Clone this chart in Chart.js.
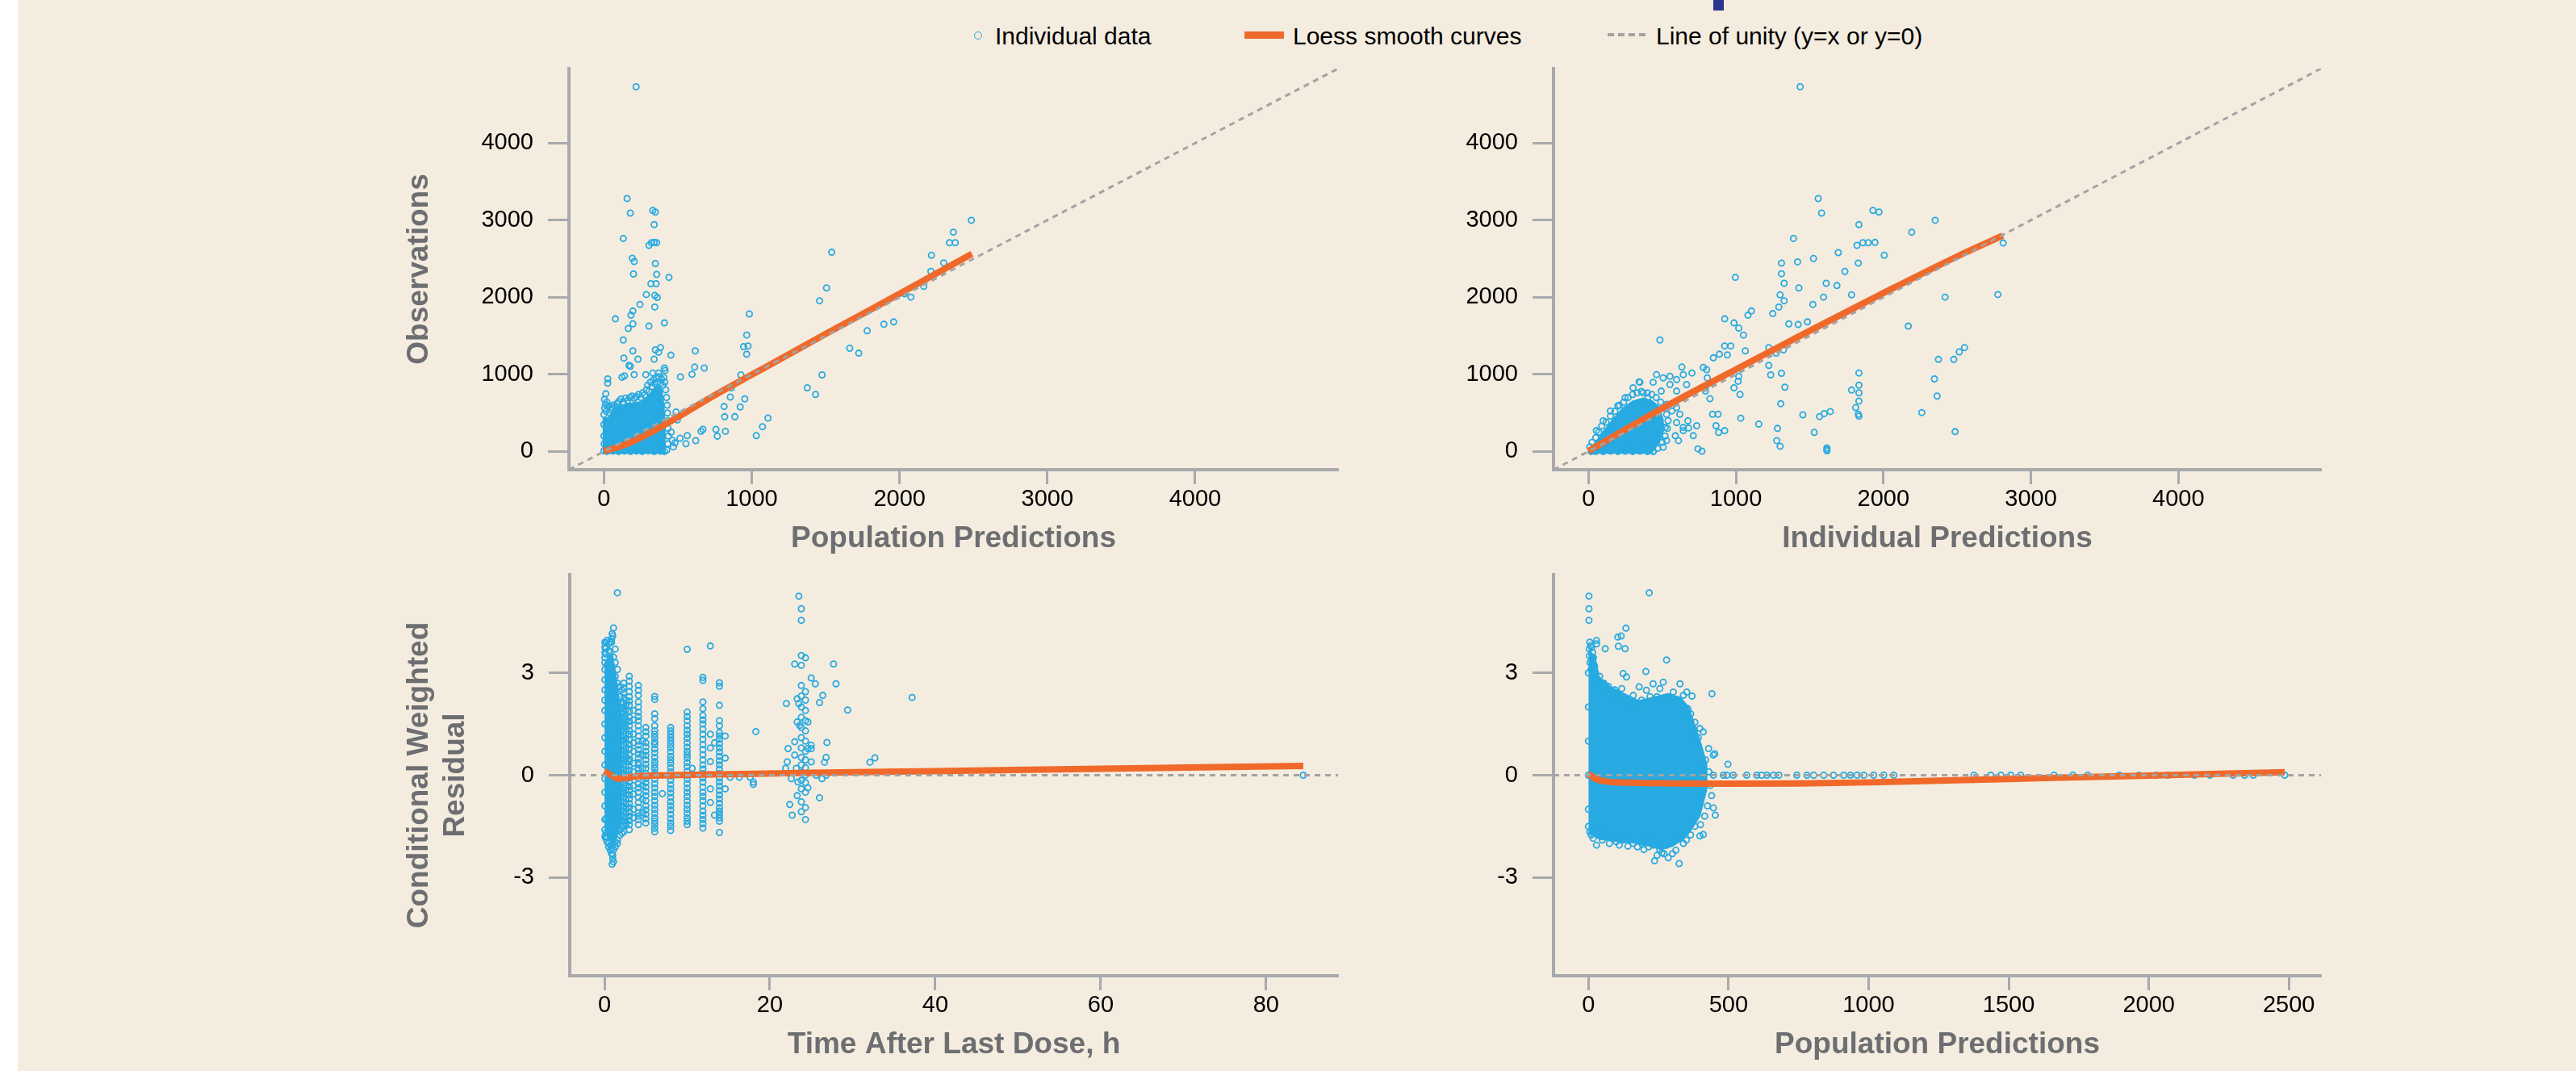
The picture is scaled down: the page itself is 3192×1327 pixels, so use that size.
<!DOCTYPE html>
<html>
<head>
<meta charset="utf-8">
<title>Goodness-of-fit plots</title>
<script src="https://cdn.jsdelivr.net/npm/chart.js@4.4.1/dist/chart.umd.min.js"></script>
<style>
  html, body { margin:0; padding:0; background:#ffffff; }
  body { width:3192px; height:1327px; position:relative; overflow:hidden; font-family:'Liberation Sans', Arial, sans-serif; }
  #panel { position:absolute; left:22px; top:0; width:3170px; height:1327px; background:#F4ECDF; }
  canvas { position:absolute; }
  .legtext { position:absolute; top:30px; font-size:30px; line-height:30px; color:#000; white-space:nowrap; }
</style>
</head>
<body>
<div id="panel"></div>
<div style="position:absolute;left:2123px;top:0;width:13px;height:13px;background:#2E358C"></div>
<div id="legend"></div>
<script>
// ---------------- axis settings ----------------
const obsAxisRange = [-236.5, 4966.5];
const obsTicks = [0, 1000, 2000, 3000, 4000];
const tadRange = [-4.2, 88.7];
const tadTicks = [0, 20, 40, 60, 80];
const predRange = [-124.5, 2614.5];
const predTicks = [0, 500, 1000, 1500, 2000, 2500];
const cwresRange = [-5.88, 5.88];
const cwresTicks = [-3, 0, 3];

const legendLabels = ['Individual data', 'Loess smooth curves', 'Line of unity (y=x or y=0)'];
const axisTitles = {
  obs: 'Observations', pred: 'Population Predictions', ipred: 'Individual Predictions',
  cwres: ['Conditional Weighted', 'Residual'], tad: 'Time After Last Dose, h'
};

// ---------------- Observations vs Population Predictions ----------------
const obsVsPredPoints = [
 [218,4731],[157,3281],[179,3093],[331,3127],[348,3106],[340,2943],[131,2764],[305,2674],[322,2708],[340,2712],[357,2708],
 [192,2507],[205,2464],[348,2438],[200,2302],[357,2297],[440,2259],[318,2177],[353,2177],[287,2036],[344,2024],[361,1998],
 [244,1908],[344,1874],[196,1822],[183,1767],[78,1720],[165,1596],[196,1656],[305,1626],[409,1668],[131,1446],[196,1305],
 [348,1318],[383,1348],[370,1288],[135,1211],[231,1198],[340,1198],[453,1249],[170,1117],[179,1104],[122,963],[139,980],
 [26,941],[26,886],[205,997],[283,997],[331,1018],[370,1018],[409,1082],[414,1052],[13,749],[4,676],[52,569],
 [518,967],[618,1305],[614,1095],[679,1082],[596,1001],[488,513],[497,409],[515,171],[564,206],[555,101],[621,140],
 [657,262],[670,287],[758,287],[767,199],[822,262],[855,706],[813,584],[817,451],[886,451],[922,577],[953,682],[862,826],
 [927,993],[966,1510],[975,1369],[945,1360],[966,1262],[984,1784],[1031,206],[1073,322],[1110,434],[1376,826],[1432,740],
 [1476,993],[1459,1955],[1506,2122],[1541,2584],[1663,1339],[1724,1275],[1781,1566],[1894,1651],[1960,1681],[2077,2002],
 [2034,2045],[2164,2143],[2212,2336],[2216,2545],[2299,2447],[2338,2708],[2377,2708],[2364,2845],[2486,2999],
 [463,146],[481,111],[470,60],[455,250],
 [0,480],[5,560],[10,610],[15,520],[20,640],[30,590],[40,500],[50,540],[62,600],[75,580],[88,620],[100,650],[115,680],
 [130,640],[145,690],[160,660],[175,700],[190,720],[205,690],[220,710],[235,740],[250,700],[262,760],[275,730],[288,800],
 [296,860],[305,780],[315,900],[325,840],[335,930],[345,880],[352,960],[362,900],[372,970],[380,880],[390,940],[398,860],
 [405,960],[412,900],[418,800],[424,700],[428,600],[430,500],[432,400],[434,300],[436,200],[432,100],[426,20],[410,0],
 [380,5],[340,0],[300,8],[260,0],[220,5],[180,0],[140,6],[100,0],[60,5],[20,0],[0,10],[0,200],[0,350],[2,100]
];
const obsVsPredCoreTop = [[-10,430],[30,450],[60,540],[100,600],[150,620],[200,640],[250,650],[280,690],[310,760],[340,830],[370,860],[395,800],[410,600],[418,300],[418,-30]];
const obsVsPredCoreBottom = [[-10,-30],[418,-30]];
const obsVsPredLoess = [[0,5],[100,60],[200,135],[300,230],[400,335],[500,445],[700,675],[1000,995],[1500,1525],[2000,2045],[2490,2565]];

// ---------------- Observations vs Individual Predictions ----------------
const obsVsIpredPoints = [
 [1436,4731],[1558,3281],[1581,3093],[1929,3127],[1970,3106],[2351,2999],[1834,2943],[2192,2845],[1390,2764],[1861,2708],
 [1897,2708],[1943,2712],[1821,2674],[2812,2704],[1694,2580],[2006,2545],[1526,2503],[1309,2443],[1418,2460],[1830,2443],
 [1739,2336],[996,2259],[1309,2306],[1327,2182],[1612,2182],[1685,2152],[1427,2122],[1300,2032],[1784,2032],[1594,2002],
 [2418,2002],[2776,2036],[1327,1955],[1522,1908],[1291,1874],[1250,1788],[1105,1822],[1082,1767],[924,1720],[987,1668],
 [1359,1656],[1422,1647],[1485,1681],[1019,1600],[1051,1510],[2169,1626],[485,1446],[924,1369],[965,1369],[888,1262],
 [942,1253],[847,1215],[1064,1305],[1223,1348],[1273,1275],[1322,1318],[2550,1348],[2514,1292],[2373,1194],[2477,1194],
 [2346,941],[2364,719],[2260,505],[2486,257],[1834,1018],[1834,860],[1834,761],[1834,654],[1812,569],[1830,483],[1834,458],
 [1784,796],[1640,518],[1599,492],[1567,453],[1454,475],[1531,248],[1304,620],[1332,834],[1309,1014],[1236,993],[1223,1117],
 [1282,299],[1277,141],[1300,68],[1617,47],[1617,26],[1617,9],[1155,355],[1033,432],[1028,740],[1015,911],[1019,975],
 [987,826],[879,483],[842,483],[865,334],[924,270],[883,248],[743,34],[770,4],[734,334],[679,304],[643,270],[711,205],
 [824,684],[793,826],[793,783],[779,1091],[802,1061],[806,954],
 [462,997],[507,954],[553,975],[598,933],[643,997],[666,868],[702,1018],[634,1095],[553,868],[598,783],[643,697],[494,783],
 [439,898],[349,898],[303,826],[249,697],[199,590],[149,526],[100,398],[54,270],[371,761],[403,697],[530,612],[620,483],
 [598,376],[643,312],[675,398],[521,312],[530,141],[507,56],[439,4],[340,13],[485,184],[611,141],[589,205],[598,569],
 [566,526],[344,903],
 [10,60],[25,120],[50,180],[70,250],[90,330],[120,380],[150,460],[180,520],[210,600],[240,640],[270,700],[300,740],
 [330,760],[360,780],[400,760],[430,740],[460,700],[490,640],[515,560],[530,480],[540,400],[535,300],[520,200],[500,120],
 [470,40],[440,0],[400,0],[350,5],[300,0],[250,3],[200,0],[150,5],[100,0],[50,2],[20,0]
];
const obsVsIpredCoreTop = [[-5,0],[40,110],[100,270],[170,440],[230,570],[300,660],[370,700],[430,670],[480,590],[510,420],[515,300]];
const obsVsIpredCoreBottom = [[-5,-30],[430,-30],[480,100],[515,280]];
const obsVsIpredLoess = [[0,5],[250,285],[500,560],[1000,1065],[1500,1565],[2000,2055],[2500,2530],[2810,2800]];

// ---------------- CWRES vs Time After Last Dose (columns: time, residuals) ----------------
const cwresVsTadColumns = [
 [0.05,[3.9,3.75,3.6,3.45,3.3,3.1,2.8,2.5,2.2,1.9,1.5,1.1,0.7,0.3,-0.1,-0.5,-0.9,-1.3,-1.6,-1.8]],
 [0.16,[3.88,3.71,3.55,-1.27,-1.7,-1.85]],
 [0.3,[3.22,3.95,-1.8,-1.95]],
 [0.5,[3.85,3.65,-2.0,-2.1]],
 [0.7,[3.61,3.9,-2.05,-2.2]],
 [0.86,[3.9,4.0,-2.15,-2.3]],
 [0.93,[4.15,-2.05,-2.61]],
 [1.0,[4.08,-2.34,-2.45]],
 [1.09,[4.32,3.46,-2.19,-2.54]],
 [1.3,[3.7,3.3,2.9,-1.95,-2.1]],
 [1.56,[5.35,3.1,2.7,-1.9,-2.0]],
 [1.87,[2.6,2.3,2.0,-1.76,-1.6]],
 [2.1,[2.5,2.1,1.8,1.5,-1.5,-1.7]],
 [2.33,[2.7,2.56,2.41,2.27,2.12,1.99,1.85,1.7,1.57,1.42,1.3,1.15,1.02,0.88,0.73,0.6,0.46,0.33,0.18,0.05,-0.09,-0.22,-0.37,-0.5,-0.64,-0.79,-0.92,-1.06,-1.2,-1.33,-1.48,-1.66]],
 [2.57,[2.2,2.05,1.92,1.78,1.63,1.5,1.36,1.22,1.08,0.95,0.8,0.67,0.53,0.4,0.26,0.12,-0.02,-0.15,-0.3,-0.43,-0.57,-0.7,-0.85,-0.98,-1.12,-1.26,-1.39,-1.46]],
 [3.0,[2.9,2.76,2.6,2.45,2.3,2.17,2.05,1.88,1.7,1.58,1.45,1.31,1.2,1.04,0.9,0.77,0.6,0.48,0.4,0.27,0.15,0.02,-0.08,-0.2,-0.33,-0.45,-0.58,-0.7,-0.83,-0.95,-1.08,-1.2,-1.33,-1.45,-1.6]],
 [3.5,[1.9,1.62,1.2,0.95,0.7,0.35,0.1,-0.3,-0.55,-1.0,-1.25]],
 [4.1,[2.63,2.49,2.34,2.15,2.0,1.85,1.72,1.6,1.45,1.3,1.15,1.0,0.88,0.75,0.62,0.5,0.37,0.3,0.18,0.05,-0.1,-0.25,-0.37,-0.5,-0.65,-0.8,-0.94,-1.1,-1.2,-1.3,-1.45]],
 [4.6,[1.0,0.6,0.2,-0.3,-0.7,-1.1]],
 [5.0,[1.4,1.27,1.15,0.95,0.83,0.7,0.58,0.45,0.32,0.2,0.05,-0.1,-0.22,-0.35,-0.48,-0.6,-0.75,-0.9,-1.02,-1.15,-1.28,-1.4]],
 [6.07,[2.31,2.22,1.8,1.66,1.45,1.3,1.2,1.1,0.98,0.9,0.77,0.65,0.52,0.4,0.3,0.2,0.08,0.0,-0.12,-0.25,-0.37,-0.5,-0.62,-0.75,-0.88,-1.0,-1.12,-1.25,-1.35,-1.45,-1.56,-1.66]],
 [7.0,[-0.54]],
 [8.0,[1.4,1.3,1.2,1.1,1.0,0.9,0.8,0.68,0.55,0.45,0.35,0.22,0.1,-0.02,-0.15,-0.28,-0.4,-0.52,-0.65,-0.78,-0.9,-1.02,-1.15,-1.28,-1.4,-1.5,-1.62]],
 [10.0,[3.69,1.85,1.72,1.6,1.45,1.32,1.2,1.08,0.95,0.82,0.7,0.6,0.5,0.37,0.25,0.12,0.0,-0.12,-0.25,-0.38,-0.5,-0.62,-0.75,-0.88,-1.0,-1.12,-1.25,-1.35,-1.45]],
 [10.6,[0.2]],
 [11.9,[2.87,2.78,2.15,1.95,1.75,1.62,1.5,1.35,1.2,1.05,0.9,0.75,0.6,0.45,0.3,0.18,0.05,-0.08,-0.2,-0.35,-0.5,-0.62,-0.75,-0.9,-1.05,-1.18,-1.3,-1.42,-1.55]],
 [12.8,[3.79,1.2,0.8,0.4,-0.4,-0.8]],
 [13.3,[-1.17,0.95]],
 [13.9,[2.71,2.61,2.05,1.6,1.45,1.25,1.15,1.05,0.92,0.8,0.68,0.55,0.42,0.3,0.18,0.05,-0.08,-0.2,-0.32,-0.45,-0.58,-0.7,-0.82,-0.95,-1.05,-1.15,-1.25,-1.35,-1.68]],
 [14.6,[1.15,0.5,-0.4]],
 [15.2,[-0.06]],[16.3,[-0.06]],[17.6,[-0.06]],[18.0,[-0.2,-0.27]],[18.3,[1.28]],
 [21.9,[0.2]],[22.0,[2.1]],[22.2,[0.78]],[22.1,[0.39]],[22.4,[-0.86]],[22.7,[-1.17]],[22.6,[-0.1]],
 [23.0,[3.26,0.98,0.59]],[23.2,[0.2]],[23.3,[2.24,1.56,-0.6]],[23.4,[-0.2]],[23.5,[5.25,2.1]],[23.6,[1.46]],
 [23.8,[4.88,4.54,3.51,3.22,2.63,2.32,2.0,1.7,1.4,1.1,0.8,0.52,0.3,0.08,-0.15,-0.4,-0.78,-1.07]],
 [24.3,[3.44,2.45,2.2,1.9,1.6,1.3,1.0,0.7,0.45,0.22,0.0,-0.22,-0.5,-0.95,-1.3]],
 [24.6,[0.78,1.56,-0.37]],[25.0,[2.85,0.88,0.78,0.39]],[25.5,[2.68]],[25.6,[0.0]],[26.0,[2.13,-0.66]],[26.3,[-0.1]],
 [26.4,[2.34]],[26.6,[0.38]],[26.8,[0.52,0.0]],[26.9,[0.96]],[27.7,[3.26]],[28.0,[2.68]],[29.4,[1.91]],
 [32.1,[0.38]],[32.7,[0.51]],[37.2,[2.28]],[84.5,[0.0]]
];
const cwresVsTadCoreTop = [[0.0,3.3],[0.5,3.5],[1.0,3.6],[1.4,3.0],[1.8,2.3],[2.2,1.7]];
const cwresVsTadCoreBottom = [[0.0,-1.6],[0.5,-1.9],[1.0,-2.1],[1.4,-1.9],[1.8,-1.6],[2.2,-1.4]];
const cwresVsTadLoess = [[0,0.12],[0.8,0.0],[1.6,-0.1],[2.5,-0.08],[4,-0.03],[8,0.0],[15,0.03],[25,0.07],[40,0.12],[60,0.19],[84.5,0.27]];

// ---------------- CWRES vs Population Predictions ----------------
const cwresVsPredPoints = [
 [2,5.25],[2,4.88],[2,4.54],[217,5.35],[134,4.31],[117,4.08],[105,4.05],[107,3.78],[131,3.71],[60,3.71],[279,3.38],[205,3.04],
 [441,2.39],[29,3.95],[29,3.85],[5,3.9],[8,3.8],[12,3.75],[15,3.6],[3,3.7],[4,3.5],[6,3.3],[10,3.1],[18,3.45],[22,3.2],[25,3.0],
 [72,2.6],[88,2.34],[124,2.98],[136,2.88],[119,2.54],[160,2.34],[181,2.59],[207,2.49],[231,2.68],[255,2.54],[267,2.73],
 [303,2.44],[327,2.68],[339,2.34],[351,2.44],[370,2.32],[355,1.95],[398,1.37],[410,1.27],[429,0.78],[446,0.59],[451,0.63],
 [498,0.32],[446,-0.96],[453,-1.17],[410,-1.74],[398,-1.78],[324,-2.59],[236,-2.51],[339,-2.0],[327,-1.85],[279,-2.05],
 [255,-2.19],[231,-2.05],[207,-1.85],[160,-2.0],[141,-2.08],[124,-1.9],[100,-1.95],[88,-1.83],[64,-1.76],[29,-2.05],
 [17,-1.85],[5,-1.66],[41,-1.74],
 [40,2.9],[55,2.7],[95,2.5],[150,2.1],[170,2.0],[190,2.2],[220,2.3],[245,2.3],[285,2.3],[315,2.2],[365,1.8],[380,1.55],
 [392,1.1],[418,0.45],[430,0.1],[435,-0.3],[440,-0.6],[425,-0.9],[415,-1.2],[400,-1.45],[380,-1.5],[365,-1.75],[350,-1.9],
 [300,-2.3],[270,-2.3],[245,-2.35],[215,-2.1],[190,-2.0],[175,-2.1],[110,-2.05],[75,-2.0],[50,-1.9],[10,-1.75],[0,-1.5],
 [0,1.0],[0,2.0],[0,3.0],[0,0],[0,-1.0],[285,-2.42],[262,-2.28],[312,-2.2],[198,-2.18]
];
const cwresZeroPreds = [446,482,494,517,565,601,618,637,661,680,744,780,804,840,875,911,935,959,983,1018,1054,1090,
 1376,1436,1472,1507,1543,1662,1729,1782,1894,1965,2027,2068,2163,2218,2301,2342,2373,2485];
const cwresVsPredCoreTop = [[0,3.7],[25,3.5],[40,2.9],[80,2.6],[130,2.4],[180,2.2],[230,2.3],[280,2.4],[330,2.3],[360,2.0],[385,1.4],[405,0.9],[425,0.3]];
const cwresVsPredCoreBottom = [[0,-1.7],[40,-1.9],[100,-1.95],[160,-2.0],[220,-2.1],[260,-2.2],[300,-2.1],[340,-1.9],[370,-1.6],[400,-1.2],[425,-0.4]];
const cwresVsPredLoess = [[0,0.05],[20,-0.08],[60,-0.18],[150,-0.22],[300,-0.24],[500,-0.25],[750,-0.24],[1000,-0.21],[1250,-0.16],[1500,-0.11],[1750,-0.06],[2000,-0.01],[2250,0.04],[2485,0.09]];

// ---------------- styling ----------------
const BLUE = '#27AAE1', ORANGE = '#F0692A', UNITY = '#A3A3A3', AXIS = '#A7A9AC', TITLE = '#6D6E71';
const FONT = "'Liberation Sans', Arial, Helvetica, sans-serif";
Chart.defaults.font.family = FONT;

const toXY = arr => arr.map(([x, y]) => ({x, y}));
const colsToXY = cols => { const out = []; cols.forEach(([x, ys]) => ys.forEach(y => out.push({x, y}))); return out; };

// legend (HTML text)
(function buildLegend() {
  const lg = document.getElementById('legend');
  lg.innerHTML =
    '<div style="position:absolute;left:1207px;top:39px;width:10px;height:10px;box-sizing:border-box;border:1.8px solid ' + BLUE + ';border-radius:50%"></div>' +
    '<div class="legtext" style="left:1233px">' + legendLabels[0] + '</div>' +
    '<div style="position:absolute;left:1542px;top:39px;width:49px;height:9px;background:' + ORANGE + '"></div>' +
    '<div class="legtext" style="left:1602px">' + legendLabels[1] + '</div>' +
    '<div style="position:absolute;left:1992px;top:41px;width:49px;height:4px;background:repeating-linear-gradient(to right,' + UNITY + ' 0 8px,transparent 8px 13px)"></div>' +
    '<div class="legtext" style="left:2052px">' + legendLabels[2] + '</div>';
})();

function makePanel(cfg) {
  const [cl, ct, cw, ch] = cfg.box;
  const [L, T, R, B] = cfg.area;
  const cv = document.createElement('canvas');
  cv.width = cw; cv.height = ch;
  cv.style.left = cl + 'px'; cv.style.top = ct + 'px';
  cv.style.width = cw + 'px'; cv.style.height = ch + 'px';
  document.body.appendChild(cv);

  const datasets = [
    { type: 'line', label: legendLabels[2], data: toXY(cfg.unity), borderColor: UNITY, borderWidth: 3,
      borderDash: [7, 6], pointRadius: 0, fill: false, tension: 0 },
    { type: 'line', label: legendLabels[1], data: toXY(cfg.loess), borderColor: ORANGE, borderWidth: 8,
      pointRadius: 0, fill: false, cubicInterpolationMode: 'monotone' },
    { type: 'scatter', label: legendLabels[0], data: cfg.points, pointRadius: 3.6, pointBorderWidth: 1.8,
      borderWidth: 1.8, borderColor: BLUE, pointBorderColor: BLUE, backgroundColor: 'rgba(0,0,0,0)', pointBackgroundColor: 'rgba(0,0,0,0)' },
    { type: 'line', label: 'dense overlap (upper)', data: toXY(cfg.coreTop), borderColor: 'rgba(0,0,0,0)', borderWidth: 0,
      pointRadius: 0, backgroundColor: BLUE, fill: '+1', tension: 0 },
    { type: 'line', label: 'dense overlap (lower)', data: toXY(cfg.coreBottom), borderColor: 'rgba(0,0,0,0)', borderWidth: 0,
      pointRadius: 0, fill: false, tension: 0 }
  ];

  const tickFont = { family: FONT, size: 29 };
  const titleFont = { family: FONT, size: 37, weight: 'bold' };

  new Chart(cv, {
    type: 'scatter',
    data: { datasets },
    options: {
      responsive: false, maintainAspectRatio: false, animation: false, devicePixelRatio: 1, events: [],
      layout: { padding: { left: 0, top: T - ct, right: cl + cw - R, bottom: 0 } },
      plugins: { legend: { display: false }, tooltip: { enabled: false }, title: { display: false } },
      scales: {
        x: {
          type: 'linear', min: cfg.xRange[0], max: cfg.xRange[1],
          afterBuildTicks: s => { s.ticks = cfg.xTicks.map(v => ({ value: v })); },
          afterFit: s => { s.height = ct + ch - B; },
          grid: { display: true, drawOnChartArea: false, drawTicks: true, tickLength: 18, tickWidth: 3, tickColor: AXIS, color: AXIS },
          border: { display: true, color: AXIS, width: 4 },
          ticks: { color: '#000', font: tickFont, padding: 2, maxRotation: 0, autoSkip: false, callback: v => String(v) },
          title: { display: true, text: cfg.xTitle, color: TITLE, font: titleFont, padding: { top: 0, bottom: cfg.xTitlePad } }
        },
        y: {
          type: 'linear', min: cfg.yRange[0], max: cfg.yRange[1],
          afterBuildTicks: s => { s.ticks = cfg.yTicks.map(v => ({ value: v })); },
          afterFit: s => { s.width = L - cl; },
          grid: { display: true, drawOnChartArea: false, drawTicks: true, tickLength: 26, tickWidth: 3, tickColor: AXIS, color: AXIS },
          border: { display: true, color: AXIS, width: 4 },
          ticks: { color: '#000', font: tickFont, padding: 18, autoSkip: false, callback: v => String(v) },
          title: cfg.yTitle ? { display: true, text: cfg.yTitle, color: TITLE, font: titleFont, padding: { top: 520 - cl - 22.2, bottom: 0 } } : { display: false }
        }
      }
    }
  });
}

const obsUnity = [[obsAxisRange[0], obsAxisRange[0]], [obsAxisRange[1], obsAxisRange[1]]];

makePanel({
  box: [300, 40, 1400, 670], area: [705, 85, 1658, 582],
  xRange: obsAxisRange, yRange: obsAxisRange, xTicks: obsTicks, yTicks: obsTicks,
  xTitle: axisTitles.pred, yTitle: axisTitles.obs, xTitlePad: 19.8,
  points: toXY(obsVsPredPoints), coreTop: obsVsPredCoreTop, coreBottom: obsVsPredCoreBottom,
  loess: obsVsPredLoess, unity: obsUnity
});
makePanel({
  box: [1720, 40, 1200, 670], area: [1925, 85, 2876, 582],
  xRange: obsAxisRange, yRange: obsAxisRange, xTicks: obsTicks, yTicks: obsTicks,
  xTitle: axisTitles.ipred, yTitle: null, xTitlePad: 19.8,
  points: toXY(obsVsIpredPoints), coreTop: obsVsIpredCoreTop, coreBottom: obsVsIpredCoreBottom,
  loess: obsVsIpredLoess, unity: obsUnity
});
makePanel({
  box: [300, 667, 1400, 660], area: [706, 712, 1658, 1209],
  xRange: tadRange, yRange: cwresRange, xTicks: tadTicks, yTicks: cwresTicks,
  xTitle: axisTitles.tad, yTitle: axisTitles.cwres, xTitlePad: 9.8,
  points: colsToXY(cwresVsTadColumns), coreTop: cwresVsTadCoreTop, coreBottom: cwresVsTadCoreBottom,
  loess: cwresVsTadLoess, unity: [[tadRange[0], 0], [tadRange[1], 0]]
});
makePanel({
  box: [1720, 667, 1200, 660], area: [1925, 712, 2876, 1209],
  xRange: predRange, yRange: cwresRange, xTicks: predTicks, yTicks: cwresTicks,
  xTitle: axisTitles.pred, yTitle: null, xTitlePad: 9.8,
  points: toXY(cwresVsPredPoints).concat(cwresZeroPreds.map(p => ({ x: p, y: 0 }))),
  coreTop: cwresVsPredCoreTop, coreBottom: cwresVsPredCoreBottom,
  loess: cwresVsPredLoess, unity: [[predRange[0], 0], [predRange[1], 0]]
});
</script>
</body>
</html>
